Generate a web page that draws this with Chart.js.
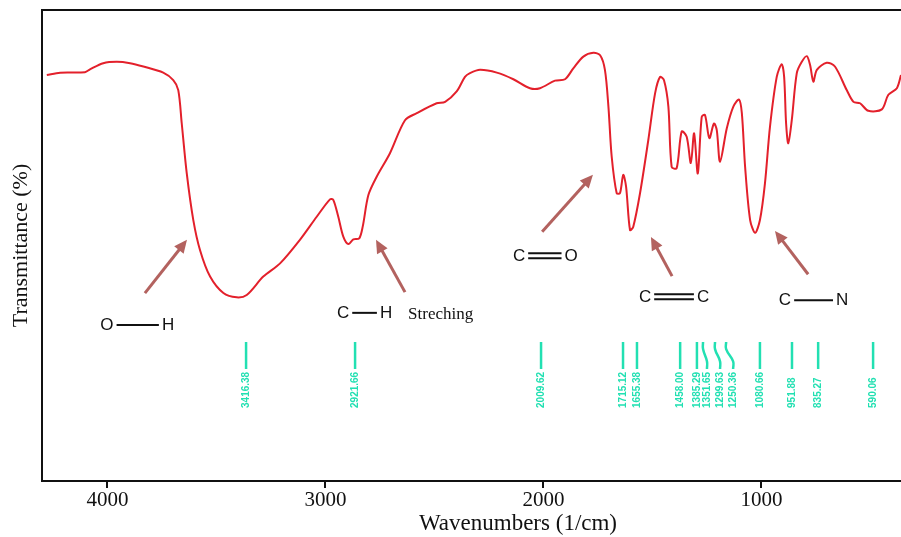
<!DOCTYPE html>
<html>
<head>
<meta charset="utf-8">
<script src="https://cdn.jsdelivr.net/npm/chart.js@4.4.1/dist/chart.umd.min.js"></script>
<style>
  body { margin: 0; background: #fff; }
  canvas { display: block; }
</style>
</head>
<body>
<canvas id="ir-chart" width="901" height="537"></canvas>
<script>
// FTIR spectrum
const xTicks = [1000, 2000, 3000, 4000];

const wavenumbers = [
  4278, 4217, 4103, 4080, 4019, 3957, 3896, 3835, 3744, 3698,
  3675, 3659, 3636, 3606, 3575, 3529, 3468, 3407, 3361, 3285,
  3208, 3117, 3040, 2979, 2964, 2941, 2918, 2895, 2872, 2845,
  2829, 2803, 2765, 2704, 2635, 2581, 2490, 2451, 2398, 2360,
  2337, 2291, 2214, 2138, 2062, 2016, 1947, 1901, 1863, 1817,
  1771, 1740, 1718, 1702, 1687, 1664, 1649, 1634, 1621, 1603,
  1588, 1557, 1519, 1488, 1465, 1447, 1427, 1412, 1389, 1366,
  1343, 1324, 1309, 1292, 1274, 1259, 1239, 1218, 1205, 1190,
  1159, 1129, 1103, 1090, 1075, 1052, 1029, 1007, 984, 961,
  930, 907, 896, 887, 877, 861, 838, 815, 792, 777,
  762, 746, 701, 663, 609, 578, 548, 510, 448, 418, 379, 360
];

const transmittance = [
  86.2, 86.7, 86.8, 87.4, 88.7, 89.0, 88.7, 88.0, 86.7, 85.1,
  83.0, 75.9, 65.3, 55.4, 49.0, 43.4, 39.9, 39.0, 39.5, 43.4,
  46.2, 51.2, 56.1, 59.8, 59.7, 56.1, 51.9, 50.3, 51.3, 51.5,
  54.0, 60.7, 64.6, 69.6, 76.6, 78.1, 80.2, 80.5, 82.7, 85.8,
  86.6, 87.3, 86.7, 85.3, 83.4, 83.4, 85.0, 85.3, 87.6, 90.1,
  90.9, 90.4, 87.3, 79.5, 68.9, 61.1, 61.1, 65.0, 62.5, 53.3,
  54.0, 61.1, 72.4, 82.3, 85.8, 85.1, 79.5, 66.7, 66.4, 74.2,
  73.1, 67.5, 73.8, 65.3, 77.3, 77.7, 72.8, 75.9, 74.5, 67.8,
  74.9, 79.5, 81.0, 78.1, 66.7, 55.4, 52.7, 55.4, 63.2, 75.2,
  85.8, 88.5, 85.8, 75.9, 71.7, 76.6, 86.6, 89.0, 90.2, 88.3,
  84.8, 87.3, 88.8, 88.0, 83.0, 80.5, 80.2, 78.6, 78.9, 82.0, 83.4, 86.2
];

// peak-pick markers (where they sit on the axis in the picture, and their text)
const peakLabels = [
  "3416.38", "2921.66", "2009.62", "1715.12", "1655.38", "1458.00", "1385.29",
  "1351.65", "1299.63", "1250.36", "1080.66", "951.88", "835.27", "590.06"
];
const peakTop = [3364, 2864, 2011, 1635, 1571, 1373, 1296, 1268, 1213, 1162, 1007, 860, 740, 488];
const peakBottom = [3364, 2864, 2011, 1635, 1571, 1373, 1296, 1250, 1190, 1130, 1007, 860, 740, 488];
const peakLineTop = 29.5;
const peakLineBottom = 23.8;
const peakTextStart = 15.5;

// bond annotations: [left atom, right atom, bond order, left x, right x, y]
const bonds = [
  ["O", "H", 1, 4002, 3722, 33.1],
  ["C", "H", 1, 2919, 2722, 35.7],
  ["C", "O", 2, 2112, 1873, 47.8],
  ["C", "C", 2, 1534, 1268, 39.1],
  ["C", "N", 1, 892, 630, 38.4]
];

// arrows: [tail x, tail y, head x, head y]
const arrows = [
  [3828, 39.9, 3635, 51.2],
  [2635, 40.1, 2768, 51.2],
  [2006, 52.9, 1773, 65.0],
  [1410, 43.5, 1507, 51.8],
  [786, 43.9, 938, 53.1]
];

const spectrum = wavenumbers.map((w, i) => ({ x: w, y: transmittance[i] }));

const markerPoints = [];
peakTop.forEach((w, i) => {
  const b = peakBottom[i];
  if (w === b) {
    markerPoints.push({ x: w, y: peakLineTop }, { x: b, y: peakLineBottom });
  } else {
    markerPoints.push(
      { x: w, y: peakLineTop },
      { x: w, y: 28.0 },
      { x: b, y: 25.4 },
      { x: b, y: peakLineBottom }
    );
  }
  markerPoints.push({ x: b, y: null });
});

const overlay = {
  id: "overlay",
  afterDatasetsDraw(chart) {
    const { ctx, chartArea: a, scales: { x, y } } = chart;
    ctx.save();

    // top frame line
    ctx.strokeStyle = "#111";
    ctx.lineWidth = 2;
    ctx.beginPath();
    ctx.moveTo(a.left - 1, a.top);
    ctx.lineTo(a.right, a.top);
    ctx.stroke();

    // x axis title
    ctx.fillStyle = "#111";
    ctx.font = "23px 'Liberation Serif'";
    ctx.textAlign = "center";
    ctx.textBaseline = "middle";
    ctx.fillText("Wavenumbers (1/cm)", 518, 524);

    // peak values, rotated
    ctx.fillStyle = "#22e0b2";
    ctx.font = "bold 10px 'Liberation Sans'";
    ctx.textAlign = "left";
    peakLabels.forEach((t, i) => {
      ctx.save();
      ctx.translate(x.getPixelForValue(peakBottom[i]), y.getPixelForValue(peakTextStart));
      ctx.rotate(-Math.PI / 2);
      ctx.fillText(t, 0, 0);
      ctx.restore();
    });

    // arrows
    ctx.strokeStyle = "#b3625f";
    ctx.fillStyle = "#b3625f";
    ctx.lineWidth = 3;
    arrows.forEach(([tx, ty, hx, hy]) => {
      const x0 = x.getPixelForValue(tx), y0 = y.getPixelForValue(ty);
      const x1 = x.getPixelForValue(hx), y1 = y.getPixelForValue(hy);
      const ang = Math.atan2(y1 - y0, x1 - x0);
      const len = 13;
      ctx.beginPath();
      ctx.moveTo(x0, y0);
      ctx.lineTo(x1 - Math.cos(ang) * len * 0.7, y1 - Math.sin(ang) * len * 0.7);
      ctx.stroke();
      ctx.beginPath();
      ctx.moveTo(x1, y1);
      ctx.lineTo(x1 - len * Math.cos(ang) + 6 * Math.sin(ang), y1 - len * Math.sin(ang) - 6 * Math.cos(ang));
      ctx.lineTo(x1 - len * Math.cos(ang) - 6 * Math.sin(ang), y1 - len * Math.sin(ang) + 6 * Math.cos(ang));
      ctx.closePath();
      ctx.fill();
    });

    // bond labels
    ctx.fillStyle = "#111";
    ctx.strokeStyle = "#111";
    ctx.lineWidth = 2;
    ctx.font = "17px 'Liberation Sans'";
    ctx.textAlign = "center";
    bonds.forEach(([a1, a2, order, lx, rx, ty]) => {
      const px1 = x.getPixelForValue(lx), px2 = x.getPixelForValue(rx), py = y.getPixelForValue(ty);
      ctx.fillText(a1, px1, py);
      ctx.fillText(a2, px2, py);
      const s = px1 + ctx.measureText(a1).width / 2 + 3;
      const e = px2 - ctx.measureText(a2).width / 2 - 3;
      const offs = order === 2 ? [-2.5, 2.5] : [0];
      offs.forEach(o => {
        ctx.beginPath();
        ctx.moveTo(s, py + o);
        ctx.lineTo(e, py + o);
        ctx.stroke();
      });
    });

    ctx.font = "17px 'Liberation Serif'";
    ctx.textAlign = "left";
    ctx.fillText("Streching", x.getPixelForValue(2621), y.getPixelForValue(35.3));

    ctx.restore();
  }
};

new Chart(document.getElementById("ir-chart"), {
  type: "line",
  data: {
    datasets: [
      {
        data: spectrum,
        borderColor: "#e3202b",
        borderWidth: 2,
        pointRadius: 0,
        tension: 0.3
      },
      {
        data: markerPoints,
        borderColor: "#22e0b2",
        borderWidth: 2.5,
        pointRadius: 0,
        tension: 0.45,
        spanGaps: false
      }
    ]
  },
  options: {
    responsive: false,
    animation: false,
    layout: { padding: { top: 10, right: 0, bottom: 0, left: 0 } },
    plugins: {
      legend: { display: false },
      tooltip: { enabled: false }
    },
    scales: {
      x: {
        type: "linear",
        reverse: true,
        min: 360,
        max: 4300,
        afterFit(s) { s.height = 56; },
        afterBuildTicks(s) { s.ticks = xTicks.map(v => ({ value: v })); },
        grid: {
          display: true,
          drawOnChartArea: false,
          color: "#111",
          lineWidth: 2,
          tickLength: 7
        },
        border: { display: true, color: "#111", width: 2 },
        ticks: {
          color: "#111",
          font: { family: "Liberation Serif", size: 21 },
          padding: 0,
          maxRotation: 0,
          autoSkip: false,
          callback: v => String(v)
        }
      },
      y: {
        min: 0,
        max: 100,
        afterFit(s) { s.width = 42; },
        ticks: { display: false },
        grid: { display: false },
        border: { display: true, color: "#111", width: 2 },
        title: {
          display: true,
          text: "Transmittance (%)",
          color: "#111",
          font: { family: "Liberation Serif", size: 22 },
          padding: { top: 8, bottom: 0 }
        }
      }
    }
  },
  plugins: [overlay]
});
</script>
</body>
</html>
